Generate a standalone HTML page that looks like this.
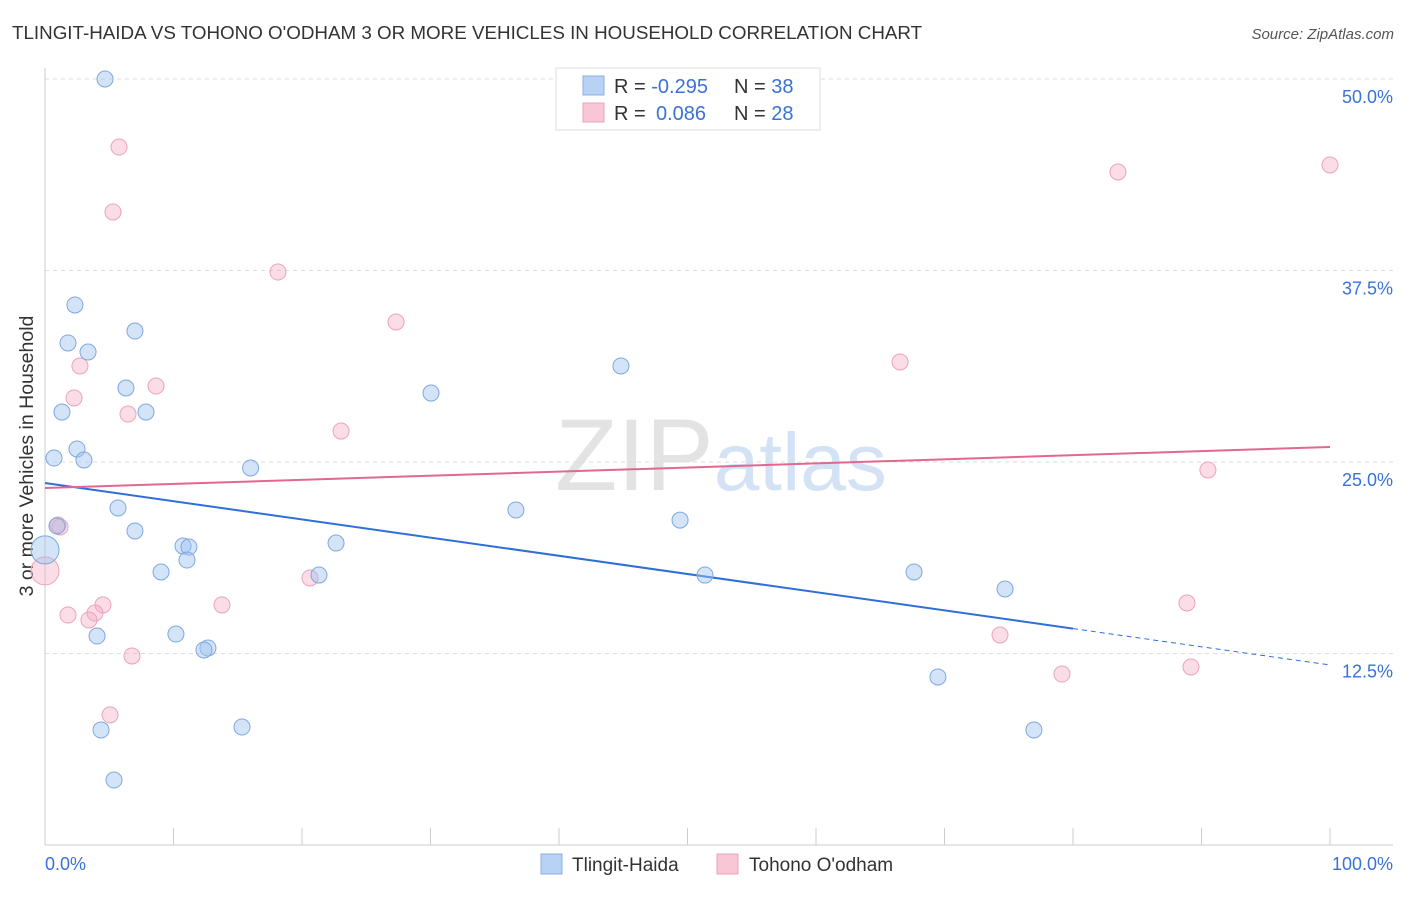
<!DOCTYPE html>
<html><head><meta charset="utf-8"><style>
body{margin:0;background:#fff;font-family:"Liberation Sans",sans-serif;}
svg text{font-family:"Liberation Sans",sans-serif;}
</style></head><body>
<svg id="chart" width="1406" height="892" xmlns="http://www.w3.org/2000/svg">
<text x="12" y="39" font-size="18.8" fill="#333">TLINGIT-HAIDA VS TOHONO O'ODHAM 3 OR MORE VEHICLES IN HOUSEHOLD CORRELATION CHART</text>
<text x="1394" y="39" font-size="15" fill="#555" text-anchor="end" font-style="italic">Source: ZipAtlas.com</text>
<text x="555" y="490" font-size="102" fill="#ddd" font-family="Liberation Serif" opacity="0.8">ZIP<tspan fill="#c9dcf2" font-family="Liberation Sans" font-size="82">atlas</tspan></text>
<text transform="translate(33,456) rotate(-90)" font-size="19.5" fill="#333" text-anchor="middle">3 or more Vehicles in Household</text>
<g id="grid"></g><g id="trends"></g><g id="pts"></g>
<g>
<rect x="556" y="68" width="264" height="62" fill="#fff" stroke="#ddd"/>
<rect x="583" y="76" width="21" height="19" fill="#b8d2f5" stroke="#8ab0e0"/>
<rect x="583" y="103" width="21" height="19" fill="#f9c6d5" stroke="#eba3b9"/>
<text x="614" y="93" font-size="20" fill="#333">R = <tspan fill="#3a72d6">-0.295</tspan><tspan x="734">N = </tspan><tspan fill="#3a72d6">38</tspan></text>
<text x="614" y="120" font-size="20" fill="#333">R = <tspan x="656" fill="#3a72d6">0.086</tspan><tspan x="734">N = </tspan><tspan fill="#3a72d6">28</tspan></text>
</g>
<g>
<rect x="541" y="854" width="21" height="20" fill="#b8d2f5" stroke="#8ab0e0"/>
<text x="572" y="871" font-size="19" fill="#333">Tlingit-Haida</text>
<rect x="717" y="854" width="21" height="20" fill="#f9c6d5" stroke="#eba3b9"/>
<text x="749" y="871" font-size="19" fill="#333">Tohono O'odham</text>
</g>
</svg>
<script>
const yTicks=[12.5,25,37.5,50];
const yTickLabels=["12.5%","25.0%","37.5%","50.0%"];
const blueX=[4.67,2.33,1.79,3.35,7.0,6.3,1.32,7.86,2.49,0.7,3.03,16.0,5.68,0.93,7.0,10.74,11.2,11.05,9.03,4.05,10.19,12.68,12.37,4.36,15.33,5.37,30.04,22.65,21.32,44.82,36.65,49.42,51.36,67.63,74.71,69.49,76.96,0];
const blueY=[50,35.25,32.77,32.18,33.55,29.83,28.26,28.26,25.85,25.26,25.13,24.61,22.0,20.82,20.5,19.52,19.45,18.6,17.82,13.64,13.77,12.86,12.73,7.51,7.7,4.24,29.5,19.71,17.62,31.27,21.87,21.21,17.62,17.82,16.71,10.97,7.51,19.26];
const blueBig=[37];
const pinkX=[5.76,5.29,18.13,27.32,2.72,8.64,2.26,6.46,23.04,1.01,1.17,0,4.51,3.89,1.79,3.42,13.77,6.77,5.06,20.62,66.54,83.5,100,90.5,88.87,74.32,79.14,89.18];
const pinkY=[45.56,41.32,37.4,34.14,31.27,29.96,29.18,28.13,27.02,20.89,20.76,17.89,15.67,15.14,15.01,14.69,15.67,12.34,8.49,17.43,31.53,43.93,44.39,24.48,15.8,13.71,11.16,11.62];
const pinkBig=[11];
const blueTrend=[23.63,11.75];
const pinkTrend=[23.3,25.98];
const blueSolidEnd=80;
const NS="http://www.w3.org/2000/svg";
const X=v=>45+v*12.85, Y=v=>845-v*15.32;
function mk(t,a,p){const e=document.createElementNS(NS,t);for(const k in a)e.setAttribute(k,a[k]);p.appendChild(e);return e;}
const grid=document.getElementById('grid');
mk('line',{x1:45,y1:68,x2:45,y2:845,stroke:'#ccc'},grid);
mk('line',{x1:45,y1:845,x2:1393,y2:845,stroke:'#ccc'},grid);
yTicks.forEach((t,i)=>{
 const gl=mk('line',{x1:45,y1:Y(t),x2:1393,y2:Y(t),stroke:'#ddd','stroke-dasharray':'4,4'},grid);
 
 
 const tx=mk('text',{x:1393,y:Y(t)+24,'font-size':18,fill:'#3a72d6','text-anchor':'end'},grid);
 tx.textContent=yTickLabels[i];
 
 
});
for(let i=0;i<=10;i++){mk('line',{x1:X(i*10),y1:828,x2:X(i*10),y2:845,stroke:'#ccc'},grid);}
const x0=mk('text',{x:45,y:870,'font-size':18,fill:'#3a72d6'},grid);x0.textContent='0.0%';


const x1=mk('text',{x:1393,y:870,'font-size':18,fill:'#3a72d6','text-anchor':'end'},grid);x1.textContent='100.0%';


const tr=document.getElementById('trends');
const bAt=v=>blueTrend[0]+(blueTrend[1]-blueTrend[0])*v/100;
const bl=mk('line',{x1:X(0),y1:Y(bAt(0)),x2:X(blueSolidEnd),y2:Y(bAt(blueSolidEnd)),stroke:'#2f6fd8','stroke-width':2},tr);


mk('line',{x1:X(blueSolidEnd),y1:Y(bAt(blueSolidEnd)),x2:X(100),y2:Y(bAt(100)),stroke:'#2f6fd8','stroke-width':1,'stroke-dasharray':'5,4'},tr);
const pl=mk('line',{x1:X(0),y1:Y(pinkTrend[0]),x2:X(100),y2:Y(pinkTrend[1]),stroke:'#e2688f','stroke-width':2},tr);


const pts=document.getElementById('pts');
pinkX.forEach((v,i)=>{const c=mk('circle',{cx:X(v),cy:Y(pinkY[i]),r:pinkBig.includes(i)?14:8,fill:'rgba(245,170,195,0.4)',stroke:'#eba3b9','stroke-width':1},pts);
 
 });
blueX.forEach((v,i)=>{const c=mk('circle',{cx:X(v),cy:Y(blueY[i]),r:blueBig.includes(i)?14:8,fill:'rgba(160,195,240,0.45)',stroke:'#7fa8dd','stroke-width':1},pts);
 
 });
</script>
</body></html>
